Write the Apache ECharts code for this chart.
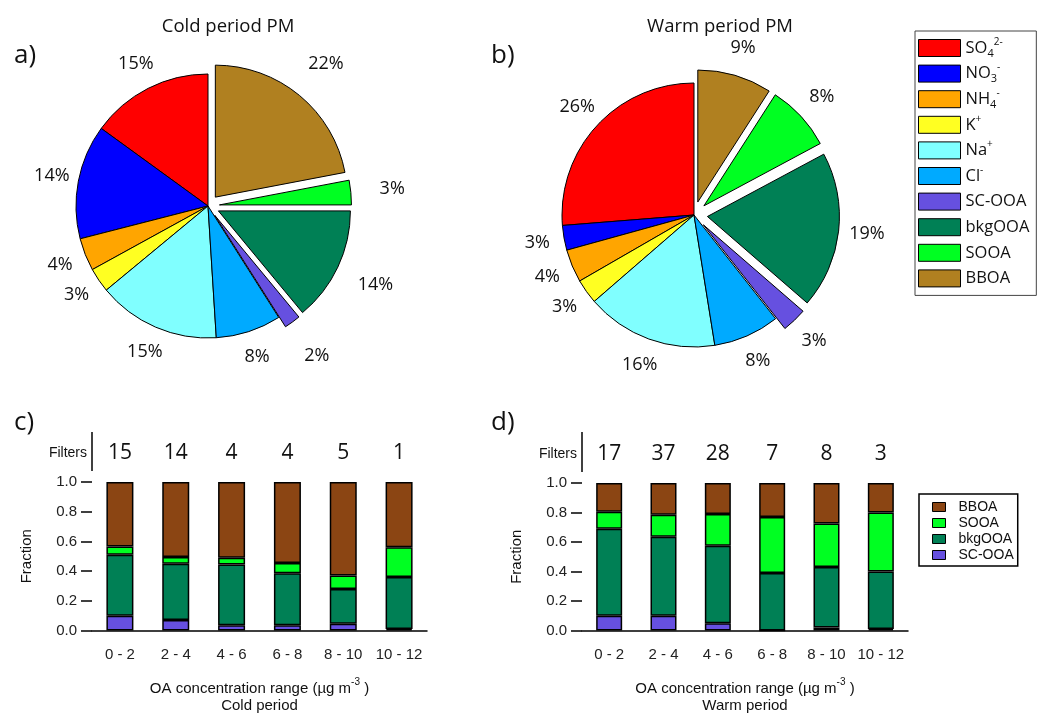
<!DOCTYPE html>
<html>
<head>
<meta charset="utf-8">
<script src="https://cdn.jsdelivr.net/npm/echarts@6/dist/echarts.min.js"></script>
<style>
  html, body { margin: 0; padding: 0; background: #fff; }
  #chart { width: 1037px; height: 714px; }
</style>
</head>
<body>
<div id="chart"></div>
<script>
// ---- PM composition (percent of mass) ----
const pieNames = ['SO4', 'NO3', 'NH4', 'K', 'Na', 'Cl', 'SC-OOA', 'bkgOOA', 'SOOA', 'BBOA'];
const coldPM = [15, 14, 4, 3, 15, 8, 2, 14, 3, 22];
const warmPM = [26, 3, 4, 3, 16, 8, 3, 19, 8, 9];
const organicSlices = ['SC-OOA', 'bkgOOA', 'SOOA', 'BBOA'];

// ---- OA factor fractions per concentration bin ----
const ranges = ['0 - 2', '2 - 4', '4 - 6', '6 - 8', '8 - 10', '10 - 12'];
const filtersCold = [15, 14, 4, 4, 5, 1];
const filtersWarm = [17, 37, 28, 7, 8, 3];

const scooaCold  = [0.10, 0.07, 0.035, 0.035, 0.045, 0.01];
const bkgooaCold = [0.41, 0.38, 0.41, 0.35, 0.235, 0.35];
const sooaCold   = [0.055, 0.045, 0.045, 0.07, 0.09, 0.20];
const bboaCold   = [0.435, 0.505, 0.51, 0.545, 0.63, 0.44];

const scooaWarm  = [0.10, 0.10, 0.05, 0.0, 0.02, 0.01];
const bkgooaWarm = [0.59, 0.535, 0.525, 0.39, 0.41, 0.39];
const sooaWarm   = [0.115, 0.15, 0.215, 0.38, 0.295, 0.40];
const bboaWarm   = [0.195, 0.215, 0.21, 0.23, 0.275, 0.20];

// ---- styling ----
const pieColors = {
  'SO4': '#ff0000', 'NO3': '#0000ff', 'NH4': '#ffa500', 'K': '#ffff22', 'Na': '#80ffff',
  'Cl': '#00aaff', 'SC-OOA': '#6650e0', 'bkgOOA': '#008055', 'SOOA': '#00ff22', 'BBOA': '#b08020'
};
const barColors = { 'SC-OOA': '#6650e0', 'bkgOOA': '#008055', 'SOOA': '#00ff22', 'BBOA': '#8b4513' };
const legendText = {
  'SO4': 'SO{sb|4}{sp|2-}', 'NO3': 'NO{sb|3}{sp|-}', 'NH4': 'NH{sb|4}{sp|-}', 'K': 'K{sp|+}',
  'Na': 'Na{sp|+}', 'Cl': 'Cl{sp|-}', 'SC-OOA': 'SC-OOA', 'bkgOOA': 'bkgOOA', 'SOOA': 'SOOA', 'BBOA': 'BBOA'
};
const SANS = 'Open Sans';
const ARIAL = 'Liberation Sans';

function pieData(values, filled) {
  return pieNames.map((n, i) => ({
    name: n, value: values[i], selected: organicSlices.includes(n),
    itemStyle: { color: filled ? pieColors[n] : 'rgba(0,0,0,0)' }
  }));
}

function pieSeries(values, center, offset) {
  return {
    type: 'pie', center: center, radius: [0, 132], startAngle: 90, clockwise: false,
    selectedMode: 'multiple', selectedOffset: offset, animation: false,
    label: { show: false }, labelLine: { show: false },
    emphasis: { disabled: true },
    itemStyle: { borderColor: '#000', borderWidth: 1 },
    data: pieData(values, true)
  };
}

// transparent ring carrying the percentage labels around each pie
function pieLabelRing(values, center, offset) {
  return {
    type: 'pie', center: center, radius: [149, 163], startAngle: 90, clockwise: false,
    selectedMode: 'multiple', selectedOffset: offset, silent: true, animation: false,
    emphasis: { disabled: true },
    itemStyle: { borderWidth: 0 },
    label: {
      show: true, position: 'inside', formatter: '{c}%', fontFamily: SANS, fontSize: 18,
      color: '#111', textBorderWidth: 0
    },
    labelLine: { show: false },
    data: pieData(values, false)
  };
}

function bottomAxis(grid, period) {
  return {
    gridIndex: grid, type: 'category', data: ranges,
    axisLine: { lineStyle: { color: '#000', width: 1.5 } },
    axisTick: { alignWithLabel: true, length: 10, lineStyle: { color: '#000', width: 1.5 } },
    axisLabel: { interval: 0, fontFamily: ARIAL, fontSize: 15, color: '#222', margin: 17 },
    name: '{a|OA concentration range (µg m}{s|-3}{a| )}\n{b|' + period + '}',
    nameLocation: 'middle', nameGap: 47,
    nameTextStyle: {
      fontFamily: ARIAL, color: '#111',
      rich: {
        a: { fontFamily: ARIAL, fontSize: 15, lineHeight: 22, color: '#111' },
        s: { fontFamily: ARIAL, fontSize: 10, lineHeight: 9, verticalAlign: 'top', color: '#111' },
        b: { fontFamily: ARIAL, fontSize: 15, lineHeight: 12, color: '#111' }
      }
    }
  };
}

function filterAxis(grid, counts) {
  return {
    gridIndex: grid, type: 'category', position: 'top', offset: 29, data: counts,
    axisLine: { show: false }, axisTick: { show: false },
    axisLabel: { interval: 0, fontFamily: SANS, fontSize: 21, color: '#111', verticalAlign: 'middle', margin: 0 },
    name: 'Filters', nameLocation: 'start', nameGap: 5,
    nameTextStyle: { fontFamily: ARIAL, fontSize: 14, color: '#111' }
  };
}

function fractionAxis(grid) {
  return {
    gridIndex: grid, type: 'value', min: 0, max: 1, interval: 0.2,
    axisLine: { show: false },
    axisTick: { show: true, length: 11, lineStyle: { color: '#000', width: 1.5 } },
    splitLine: { show: false },
    axisLabel: { formatter: v => v.toFixed(1), fontFamily: ARIAL, fontSize: 15, color: '#222', margin: 15 },
    name: 'Fraction', nameLocation: 'middle', nameGap: 58,
    nameTextStyle: { fontFamily: ARIAL, fontSize: 15, color: '#111' }
  };
}

function barSeries(name, values, xi, yi, stack, width) {
  return {
    type: 'bar', name: name + ' fraction', stack: stack, xAxisIndex: xi, yAxisIndex: yi,
    barWidth: width, data: values, animation: false,
    emphasis: { disabled: true },
    itemStyle: { color: barColors[name], borderColor: '#000', borderWidth: 1.5 }
  };
}

const chart = echarts.init(document.getElementById('chart'), null, { renderer: 'canvas' });

chart.setOption({
  backgroundColor: '#fff',
  title: [
    { text: 'Cold period PM', left: 223, top: 12, textAlign: 'center',
      textStyle: { fontFamily: SANS, fontSize: 18.5, fontWeight: 'normal', color: '#111' } },
    { text: 'Warm period PM', left: 715, top: 12, textAlign: 'center',
      textStyle: { fontFamily: SANS, fontSize: 18.5, fontWeight: 'normal', color: '#111' } },
    { text: 'a)', left: 9, top: 38, textStyle: { fontFamily: SANS, fontSize: 26, fontWeight: 'normal', color: '#111' } },
    { text: 'b)', left: 486, top: 38, textStyle: { fontFamily: SANS, fontSize: 26, fontWeight: 'normal', color: '#111' } },
    { text: 'c)', left: 9, top: 405, textStyle: { fontFamily: SANS, fontSize: 26, fontWeight: 'normal', color: '#111' } },
    { text: 'd)', left: 486, top: 405, textStyle: { fontFamily: SANS, fontSize: 26, fontWeight: 'normal', color: '#111' } }
  ],
  legend: [
    {
      data: pieNames, orient: 'vertical', left: 915, top: 31,
      icon: 'rect', itemWidth: 42, itemHeight: 17, itemGap: 3.6,
      padding: [6, 7, 6, 3], borderColor: '#444', borderWidth: 1,
      formatter: n => legendText[n],
      itemStyle: { borderColor: '#000', borderWidth: 1 },
      textStyle: {
        fontFamily: SANS, fontSize: 16.5, lineHeight: 22, color: '#111',
        rich: {
          sb: { fontFamily: SANS, fontSize: 11, lineHeight: 14, verticalAlign: 'bottom', color: '#111' },
          sp: { fontFamily: SANS, fontSize: 10, lineHeight: 12, verticalAlign: 'top', color: '#111' }
        }
      }
    },
    {
      data: ['BBOA fraction', 'SOOA fraction', 'bkgOOA fraction', 'SC-OOA fraction'],
      orient: 'vertical', left: 919, top: 494,
      icon: 'rect', itemWidth: 13, itemHeight: 9, itemGap: 0,
      padding: [5, 4, 3, 13], borderColor: '#000', borderWidth: 1.5,
      formatter: n => '{t|' + n.replace(' fraction', '') + '}',
      itemStyle: { borderColor: '#000', borderWidth: 1 },
      textStyle: {
        fontFamily: ARIAL, fontSize: 14, lineHeight: 16, color: '#111',
        rich: { t: { fontFamily: ARIAL, fontSize: 14, lineHeight: 16, padding: [0, 0, 0, 8], color: '#111' } }
      }
    }
  ],
  grid: [
    { left: 92, right: 610, top: 482, bottom: 82 },
    { left: 582, right: 129, top: 483, bottom: 81 }
  ],
  xAxis: [
    bottomAxis(0, 'Cold period'),
    filterAxis(0, filtersCold),
    bottomAxis(1, 'Warm period'),
    filterAxis(1, filtersWarm)
  ],
  yAxis: [fractionAxis(0), fractionAxis(1)],
  graphic: [
    { type: 'line', shape: { x1: 92, y1: 432, x2: 92, y2: 471 }, style: { stroke: '#000', lineWidth: 1.5 } },
    { type: 'line', shape: { x1: 582, y1: 432, x2: 582, y2: 472 }, style: { stroke: '#000', lineWidth: 1.5 } }
  ],
  series: [
    pieSeries(coldPM, [208, 206], 11.5),
    pieSeries(warmPM, [694, 215], 13.5),
    pieLabelRing(coldPM, [208, 206], 26),
    pieLabelRing(warmPM, [694, 215], 15),
    barSeries('SC-OOA', scooaCold, 0, 0, 'cold', 27),
    barSeries('bkgOOA', bkgooaCold, 0, 0, 'cold', 27),
    barSeries('SOOA', sooaCold, 0, 0, 'cold', 27),
    barSeries('BBOA', bboaCold, 0, 0, 'cold', 27),
    barSeries('SC-OOA', scooaWarm, 2, 1, 'warm', 26),
    barSeries('bkgOOA', bkgooaWarm, 2, 1, 'warm', 26),
    barSeries('SOOA', sooaWarm, 2, 1, 'warm', 26),
    barSeries('BBOA', bboaWarm, 2, 1, 'warm', 26)
  ]
});
</script>
</body>
</html>
